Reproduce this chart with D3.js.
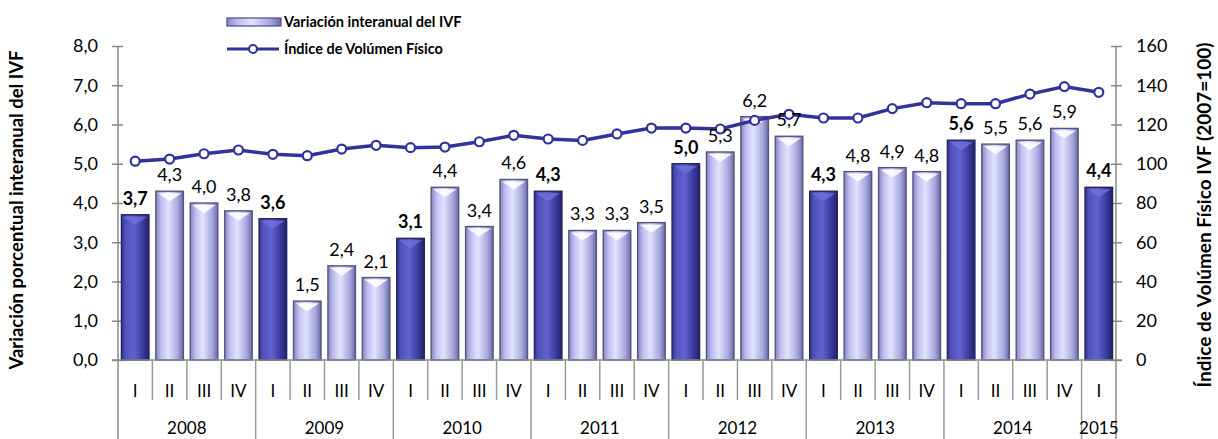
<!DOCTYPE html>
<html>
<head>
<meta charset="utf-8">
<script src="https://cdn.jsdelivr.net/npm/d3@7/dist/d3.min.js"></script>
<style>
  body { margin: 0; background: #fff; }
  text { font-family: Lato, "Open Sans", sans-serif; fill: #000; }
</style>
</head>
<body>
<svg id="chart"></svg>
<script>
// data
const yearLabels = ["2008", "2009", "2010", "2011", "2012", "2013", "2014", "2015"];
const quartersPerYear = [4, 4, 4, 4, 4, 4, 4, 1];
const quarterNames = ["I", "II", "III", "IV"];
const variacion = [3.7, 4.3, 4.0, 3.8, 3.6, 1.5, 2.4, 2.1, 3.1, 4.4, 3.4, 4.6, 4.3, 3.3, 3.3, 3.5,
  5.0, 5.3, 6.2, 5.7, 4.3, 4.8, 4.9, 4.8, 5.6, 5.5, 5.6, 5.9, 4.4];
const indiceIVF = [101.3, 102.4, 105.1, 107.0, 104.8, 104.1, 107.5, 109.4, 108.2, 108.5, 111.2, 114.5,
  112.6, 111.9, 115.2, 118.2, 118.2, 117.7, 122.1, 125.2, 123.3, 123.3, 128.1, 131.1, 130.6, 130.6,
  135.5, 139.3, 136.4];
const leftTicks = [0, 1, 2, 3, 4, 5, 6, 7, 8];
const rightTicks = [0, 20, 40, 60, 80, 100, 120, 140, 160];

// build periods list
let periods = [];
yearLabels.forEach((y, yi) => {
  for (let q = 0; q < quartersPerYear[yi]; q++) {
    periods.push({ year: y, q: quarterNames[q], idx: periods.length });
  }
});

let width = 1218;
let height = 439;
let plotLeft = 118, plotRight = 1116, plotTop = 46, base = 360;

let svg = d3.select("#chart").attr("width", width).attr("height", height);

let defs = svg.append("defs");
let gDark = defs.append("linearGradient").attr("id", "gDark");
[[0, "#34348e"], [0.15, "#5252bc"], [0.45, "#6262d0"], [0.8, "#38389a"], [1, "#22226a"]]
  .forEach(s => gDark.append("stop").attr("offset", s[0]).attr("stop-color", s[1]));
let gLight = defs.append("linearGradient").attr("id", "gLight");
[[0, "#8686c4"], [0.2, "#c0c0f0"], [0.45, "#e2e2ff"], [0.8, "#a6a6dc"], [1, "#6a6aa6"]]
  .forEach(s => gLight.append("stop").attr("offset", s[0]).attr("stop-color", s[1]));

let x = d3.scaleBand()
  .domain(periods.map(d => d.idx))
  .range([plotLeft, plotRight])
  .paddingInner(0.2)
  .paddingOuter(0.1);
let yL = d3.scaleLinear().domain([0, 8]).range([base, plotTop]);
let yR = d3.scaleLinear().domain([0, 160]).range([base, plotTop]);

let fmt = v => d3.format(".1f")(v).replace(".", ",");

// left axis
let axL = svg.append("g")
  .attr("transform", `translate(${plotLeft},0)`)
  .call(d3.axisLeft(yL).tickValues(leftTicks).tickFormat(fmt).tickSize(5).tickPadding(15));
axL.select(".domain").remove();
axL.selectAll(".tick line").attr("x2", 5).attr("x1", -6).attr("stroke", "#888").attr("stroke-width", 1.5);
axL.selectAll(".tick text").style("font-size", "18px");

// right axis
let axR = svg.append("g")
  .attr("transform", `translate(${plotRight},0)`)
  .call(d3.axisRight(yR).tickValues(rightTicks).tickSize(6).tickPadding(14));
axR.select(".domain").remove();
axR.selectAll(".tick line").attr("x1", -5).attr("x2", 6).attr("stroke", "#888").attr("stroke-width", 1.5);
axR.selectAll(".tick text").style("font-size", "18px");

// bars
let bars = svg.selectAll("rect.bar").data(periods);
bars.enter().append("rect")
  .classed("bar", true)
  .attr("x", d => x(d.idx))
  .attr("width", x.bandwidth())
  .attr("y", d => yL(variacion[d.idx]))
  .attr("height", d => base - yL(variacion[d.idx]))
  .attr("fill", d => d.q === "I" ? "url(#gDark)" : "url(#gLight)")
  .attr("stroke", d => d.q === "I" ? "#24245e" : "#55557e")
  .attr("stroke-width", 1.4);

// bevel highlight at bar top
svg.selectAll("path.bevel").data(periods).enter().append("path")
  .classed("bevel", true)
  .attr("d", d => {
    let x0 = x(d.idx), w = x.bandwidth(), t = yL(variacion[d.idx]);
    return `M${x0 + 2},${t + 2}L${x0 + w - 2},${t + 2}L${x0 + w / 2},${t + 10}Z`;
  })
  .attr("fill", d => d.q === "I" ? "#7070dc" : "#ffffff")
  .attr("opacity", d => d.q === "I" ? 0.8 : 0.85);

// axes lines
svg.append("line").attr("x1", plotLeft).attr("x2", plotLeft).attr("y1", plotTop).attr("y2", height)
  .attr("stroke", "#888").attr("stroke-width", 1.5);
svg.append("line").attr("x1", plotRight).attr("x2", plotRight).attr("y1", plotTop).attr("y2", height)
  .attr("stroke", "#888").attr("stroke-width", 1.5);
svg.append("line").attr("x1", plotLeft - 6).attr("x2", plotRight + 6).attr("y1", base).attr("y2", base)
  .attr("stroke", "#888").attr("stroke-width", 1.5);

// category separators
let step = x.step();
let yearStart = new Set();
let acc = 0;
quartersPerYear.forEach(n => { yearStart.add(acc); acc += n; });
svg.selectAll("line.sep").data(periods.filter(d => d.idx > 0)).enter().append("line")
  .classed("sep", true)
  .attr("x1", d => x(d.idx) - step * x.paddingInner() / 2)
  .attr("x2", d => x(d.idx) - step * x.paddingInner() / 2)
  .attr("y1", base)
  .attr("y2", d => yearStart.has(d.idx) ? height : 400)
  .attr("stroke", "#999").attr("stroke-width", 1.5);

// quarter labels
svg.selectAll("text.qlab").data(periods).enter().append("text")
  .classed("qlab", true)
  .attr("x", d => x(d.idx) + x.bandwidth() / 2)
  .attr("y", 397)
  .attr("text-anchor", "middle")
  .style("font-size", "17px")
  .text(d => d.q);

// year labels
let yAcc = 0;
let yearPos = yearLabels.map((y, i) => {
  let first = yAcc, last = yAcc + quartersPerYear[i] - 1;
  yAcc += quartersPerYear[i];
  return { y: y, cx: (x(first) + x(last) + x.bandwidth()) / 2 };
});
svg.selectAll("text.ylab").data(yearPos).enter().append("text")
  .classed("ylab", true)
  .attr("x", d => d.cx)
  .attr("y", 434)
  .attr("text-anchor", "middle")
  .style("font-size", "17px")
  .text(d => d.y);

// line series
let line = d3.line()
  .x(d => x(d.idx) + x.bandwidth() / 2)
  .y(d => yR(indiceIVF[d.idx]));
svg.append("path")
  .datum(periods)
  .attr("d", line)
  .attr("fill", "none")
  .attr("stroke", "#32329a")
  .attr("stroke-width", 3.5);
svg.selectAll("circle.pt").data(periods).enter().append("circle")
  .classed("pt", true)
  .attr("cx", d => x(d.idx) + x.bandwidth() / 2)
  .attr("cy", d => yR(indiceIVF[d.idx]))
  .attr("r", 4.5)
  .attr("fill", "#fff")
  .attr("stroke", "#32329a")
  .attr("stroke-width", 2.2);

// data labels
svg.selectAll("text.vlab").data(periods).enter().append("text")
  .classed("vlab", true)
  .attr("x", d => x(d.idx) + x.bandwidth() / 2)
  .attr("y", d => yL(variacion[d.idx]) - 10)
  .attr("text-anchor", "middle")
  .style("font-size", "18px")
  .style("font-weight", d => d.q === "I" ? "bold" : "normal")
  .text(d => fmt(variacion[d.idx]));

// axis titles
svg.append("text")
  .attr("transform", "translate(23,210) rotate(-90)")
  .attr("text-anchor", "middle")
  .style("font-size", "18.5px")
  .style("font-weight", "bold")
  .text("Variación porcentual interanual del IVF");
svg.append("text")
  .attr("transform", "translate(1211,215) rotate(-90)")
  .attr("text-anchor", "middle")
  .style("font-size", "19px")
  .style("font-weight", "bold")
  .text("Índice de Volúmen Físico IVF (2007=100)");

// legend
let leg = svg.append("g");
leg.append("rect").attr("x", 227).attr("y", 18).attr("width", 54).attr("height", 8)
  .attr("fill", "url(#gLight)").attr("stroke", "#4a4a90").attr("stroke-width", 1.2);
leg.append("text").attr("x", 284).attr("y", 27).style("font-size", "14.5px").style("font-weight", "bold")
  .text("Variación interanual del IVF");
leg.append("line").attr("x1", 227).attr("x2", 279).attr("y1", 49).attr("y2", 49)
  .attr("stroke", "#32329a").attr("stroke-width", 3);
leg.append("circle").attr("cx", 253).attr("cy", 49).attr("r", 4)
  .attr("fill", "#fff").attr("stroke", "#32329a").attr("stroke-width", 2);
leg.append("text").attr("x", 284).attr("y", 54).style("font-size", "14.5px").style("font-weight", "bold")
  .text("Índice de Volúmen Físico");
</script>
</body>
</html>
